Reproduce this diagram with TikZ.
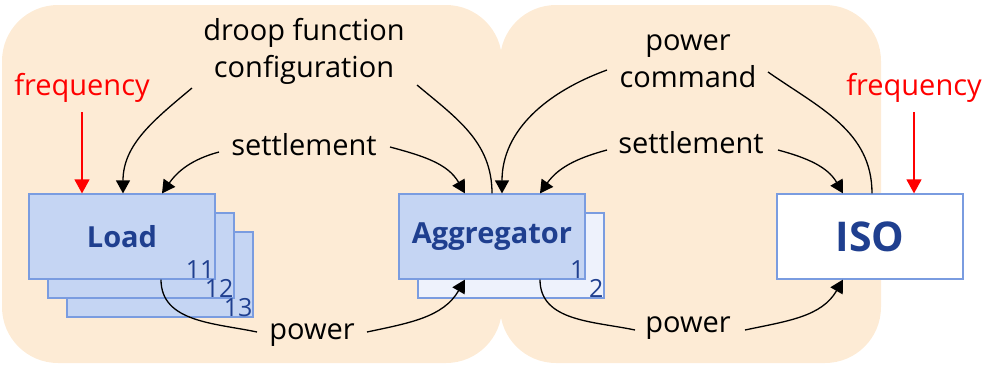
\documentclass[tikz,border=0pt]{standalone}
\usepackage{fontspec}
\setmainfont{Open Sans}
\usetikzlibrary{arrows.meta}

\definecolor{panel}{RGB}{253,235,213}
\definecolor{boxfill}{RGB}{197,213,243}
\definecolor{boxback}{RGB}{238,242,252}
\definecolor{boxline}{RGB}{122,156,224}
\definecolor{boxtext}{RGB}{31,63,143}

\tikzset{
  panelbox/.style={fill=panel, draw=none, rounded corners=56pt},
  unit/.style={draw=boxline, line width=1.2pt, fill=boxfill,
    minimum width=186pt, minimum height=85pt, inner sep=0pt,
    font=\fontsize{29}{30}\selectfont\bfseries, text=boxtext},
  unitback/.style={unit, fill=boxback},
  idx/.style={font=\fontsize{25}{26}\selectfont, text=boxtext,
    inner sep=1pt, anchor=south east},
  lbl/.style={font=\fontsize{29}{37}\selectfont, align=center, inner sep=0pt},
  redlbl/.style={lbl, text=red},
  flow/.style={line width=1.3pt, draw=black},
  flowarr/.style={flow, -{Triangle[length=13pt,width=14pt]}},
  redarr/.style={line width=1.3pt, draw=red, -{Triangle[length=14pt,width=15pt]}, red},
}

\begin{document}
\begin{tikzpicture}[x=1pt, y=-1pt]
\useasboundingbox (0,0) rectangle (983,365);

% two shaded zones
\path[panelbox] (2,5) rectangle (502,363);
\path[panelbox] (500,5) rectangle (881,363);

% load stack
\node[unit] (load3) at (160,274.5) {};
\node[unit] (load2) at (141,255.5) {};
\node[unit] (load1) at (122,236.5) {Load};
\node[idx] (n13) at (load3.south east) {13};
\node[idx] (n12) at (load2.south east) {12};
\node[idx] (n11) at (load1.south east) {11};

% aggregator stack
\node[unitback] (agg2) at (511,255.5) {};
\node[unit] (agg1) at (492,236.5) {Aggregator};
\node[idx] (n2) at (agg2.south east) {2};
\node[idx] (n1) at (agg1.south east) {1};

% ISO
\node[unit, fill=white, font=\fontsize{41}{42}\selectfont\bfseries] (iso) at (870,236.5) {ISO};

% labels
\node[redlbl] (freqL) at (82,88) {frequency};
\node[redlbl] (freqR) at (914,88) {frequency};
\node[lbl] (droop) at (304,51) {droop function\\configuration};
\node[lbl] (setL) at (304,145) {settlement};
\node[lbl] (setR) at (691,143) {settlement};
\node[lbl] (pcmd) at (688,61) {power\\command};
\node[lbl] (powL) at (312,335) {power};
\node[lbl] (powR) at (688,328) {power};

% free ends of the connectors beside the labels
\coordinate (fLs) at (82,112);
\coordinate (fRs) at (914,112);
\coordinate (dL) at (192,88);
\coordinate (dR) at (417,85);
\coordinate (sLl) at (219,152);
\coordinate (sLr) at (390,147);
\coordinate (sRl) at (607,150);
\coordinate (sRr) at (778,150);
\coordinate (cL) at (607,70);
\coordinate (cR) at (768,72);
\coordinate (pLl) at (257,332);
\coordinate (pLr) at (367,332);
\coordinate (pRl) at (635,330);
\coordinate (pRr) at (745,330);

% frequency inputs
\draw[redarr] (fLs) -- (load1.north -| fLs);
\draw[redarr] (fRs) -- (iso.north -| fRs);

% droop function configuration
\draw[flow] (agg1.north) to[out=90, in=-40] (dR);
\draw[flowarr] (dL) to[out=-140, in=90] ([xshift=1pt]load1.north);

% settlements
\draw[flowarr] (sLl) to[out=195, in=55] ([xshift=40pt]load1.north);
\draw[flowarr] (sLr) to[out=-15, in=120] ([xshift=-27pt]agg1.north);
\draw[flowarr] (sRl) to[out=195, in=55] ([xshift=48pt]agg1.north);
\draw[flowarr] (sRr) to[out=-15, in=120] ([xshift=-27pt]iso.north);

% power command
\draw[flow] ([xshift=2pt]iso.north) to[out=90, in=-35] (cR);
\draw[flowarr] (cL) to[out=200, in=90] ([xshift=10pt]agg1.north);

% power flows
\draw[flow] ([xshift=39pt]load1.south) to[out=-90, in=168] (pLl);
\draw[flowarr] (pLr) to[out=12, in=-120] ([xshift=-27pt]agg1.south);
\draw[flow] ([xshift=48pt]agg1.south) to[out=-90, in=168] (pRl);
\draw[flowarr] (pRr) to[out=12, in=-120] ([xshift=-27pt]iso.south);
\end{tikzpicture}
\end{document}
